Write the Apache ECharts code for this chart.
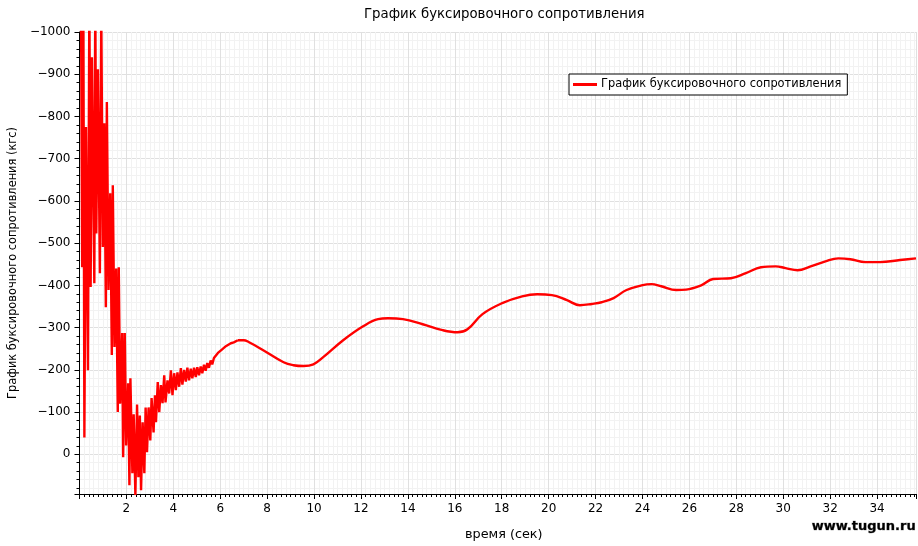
<!DOCTYPE html>
<html><head><meta charset="utf-8">
<script src="https://cdn.jsdelivr.net/npm/echarts@6/dist/echarts.min.js"></script>
<style>html,body{margin:0;padding:0;background:#fff}#c{width:918px;height:546px}</style>
</head><body><div id="c"></div>
<script>
const seriesName = 'График буксировочного сопротивления';
const chartTitle = 'График буксировочного сопротивления';
const xAxisTitle = 'время (сек)';
const yAxisTitle = 'График буксировочного сопротивления (кгс)';
const watermark = 'www.tugun.ru';

// oscillating start (time s, force kgf)
const earlyTime = [0.064,0.114,0.165,0.208,0.276,0.360,0.420,0.475,0.530,0.632,0.674,0.716,0.784,0.869,0.928,0.996,1.056,1.123,1.166,1.238,1.310,1.378,1.420,1.492,1.564,1.632,1.674,1.734,1.819,1.861,1.929,1.988,2.073,2.128,2.170,2.255,2.310,2.382,2.454,2.510,2.573,2.624,2.692,2.764,2.819,2.878,2.946,3.018,3.073,3.158,3.217,3.260,3.336,3.400,3.472,3.540,3.612,3.667,3.752,3.824,3.896,3.964,4.036,4.108,4.176,4.248,4.320,4.387,4.460,4.532,4.599,4.671,4.743,4.811,4.883,4.955,5.023,5.095,5.167,5.235,5.307,5.379,5.447,5.519,5.591,5.659,5.731,5.816,5.901,5.986,6.070,6.155,6.240,6.325,6.452,6.579,6.749];
const earlyForce = [-1080,-443,-1060,-40,-775,-199,-1090,-396,-940,-405,-1080,-523,-912,-429,-1050,-491,-784,-348,-834,-389,-618,-235,-637,-254,-440,-100,-443,-120,-287,7,-287,-21,-168,73,-180,45,-95,97,-118,54,-92,85,-76,45,-111,-5,-111,-33,-133,-52,-140,-76,-171,-100,-164,-121,-187,-123,-175,-144,-199,-140,-192,-152,-194,-160,-204,-165,-200,-172,-205,-175,-203,-180,-205,-183,-206,-187,-208,-192,-212,-198,-216,-205,-222,-213,-228,-224,-240,-236,-248,-245,-256,-254,-263,-265,-270];

// smooth part
const smoothTime = [6.749,7.00,7.21,7.85,8.70,9.12,9.55,9.97,10.39,11.24,12.09,12.73,13.15,13.79,14.63,15.48,16.12,16.54,17.18,18.02,18.87,19.51,20.14,20.78,21.33,21.84,22.26,22.77,23.32,23.96,24.38,24.80,25.44,25.86,26.50,27.01,27.77,28.41,29.05,29.68,30.10,30.61,31.17,31.80,32.35,32.86,33.50,34.13,34.98,35.66];
const smoothForce = [-270,-270,-266,-246,-218,-211,-209,-213,-230,-270,-303,-320,-322,-320,-308,-294,-289,-296,-332,-358,-374,-379,-377,-365,-353,-356,-360,-370,-389,-400,-403,-398,-389,-390,-400,-415,-417,-429,-443,-445,-441,-436,-445,-457,-464,-462,-455,-455,-460,-464];

const yTicks = [-1000,-900,-800,-700,-600,-500,-400,-300,-200,-100,0];
const xTicks = [2,4,6,8,10,12,14,16,18,20,22,24,26,28,30,32,34];

const font = 'DejaVu Sans';
const chart = echarts.init(document.getElementById('c'), null, {renderer: 'canvas'});
const pair = (ts, vs) => ts.map((t, i) => [t, vs[i]]);
const lineStyle = {color: '#ff0000', width: 2.4};

chart.setOption({
  animation: false,
  backgroundColor: '#fff',
  title: {text: chartTitle, left: 359, top: 3, textStyle: {fontFamily: font, fontSize: 13.3, fontWeight: 'normal', color: '#000'}},
  legend: {
    data: [{name: seriesName, icon: 'rect'}], left: 569, top: 74, orient: 'horizontal',
    backgroundColor: '#fff', borderColor: '#000', borderWidth: 1, borderRadius: 0,
    padding: [5, 6, 5, 4], itemWidth: 24, itemHeight: 3, itemGap: 4,
    itemStyle: {color: '#ff0000'},
    textStyle: {fontFamily: font, fontSize: 11.4, color: '#000', padding: [0, 0, 0, -1]}
  },
  grid: {left: 75, right: 2, top: 32, bottom: 52, containLabel: false},
  xAxis: {
    type: 'value', min: 0, max: 35.66, interval: 2,
    axisLine: {show: true, onZero: false, lineStyle: {color: '#000', width: 1}},
    axisTick: {show: true, length: 5, lineStyle: {color: '#000'}},
    minorTick: {show: true, splitNumber: 10, length: 3, lineStyle: {color: '#000'}},
    axisLabel: {fontFamily: font, fontSize: 12, color: '#000', margin: 9,
      showMinLabel: false, showMaxLabel: false,
      formatter: v => xTicks.includes(Math.round(v * 1000) / 1000) ? String(v) : ''},
    splitLine: {show: true, lineStyle: {color: '#e0e0e0', width: 1}},
    minorSplitLine: {show: true, lineStyle: {color: '#f2f2f2', width: 1}}
  },
  yAxis: {
    type: 'value', inverse: true, min: -1000, max: 94, interval: 100,
    name: yAxisTitle, nameLocation: 'middle', nameGap: 59, nameRotate: 90,
    nameTextStyle: {fontFamily: font, fontSize: 11.4, color: '#000'},
    axisLine: {show: true, onZero: false, lineStyle: {color: '#000', width: 1}},
    axisTick: {show: true, length: 5, lineStyle: {color: '#000'}},
    minorTick: {show: true, splitNumber: 5, length: 3, lineStyle: {color: '#000'}},
    axisLabel: {fontFamily: font, fontSize: 12, color: '#000', margin: 9,
      showMaxLabel: false,
      formatter: v => yTicks.includes(v) ? String(v).replace('-', '\u2212') : ''},
    splitLine: {show: true, lineStyle: {color: '#e0e0e0', width: 1}},
    minorSplitLine: {show: true, lineStyle: {color: '#f2f2f2', width: 1}}
  },
  graphic: [
    {type: 'text', left: 465, top: 528, style: {text: xAxisTitle, font: '12.8px "DejaVu Sans"', fill: '#000'}},
    {type: 'text', right: 2, top: 520, style: {text: watermark, font: 'bold 13px "DejaVu Sans"', fill: '#000', stroke: '#888', lineWidth: 0.6}}
  ],
  series: [
    {name: seriesName, type: 'line', data: pair(earlyTime, earlyForce), showSymbol: false, symbol: 'none',
      lineStyle: lineStyle, itemStyle: {color: '#ff0000'}, clip: true, smooth: false},
    {name: seriesName, type: 'line', data: pair(smoothTime, smoothForce), showSymbol: false, symbol: 'none',
      lineStyle: lineStyle, itemStyle: {color: '#ff0000'}, clip: true, smooth: 0.4}
  ]
});
</script></body></html>
